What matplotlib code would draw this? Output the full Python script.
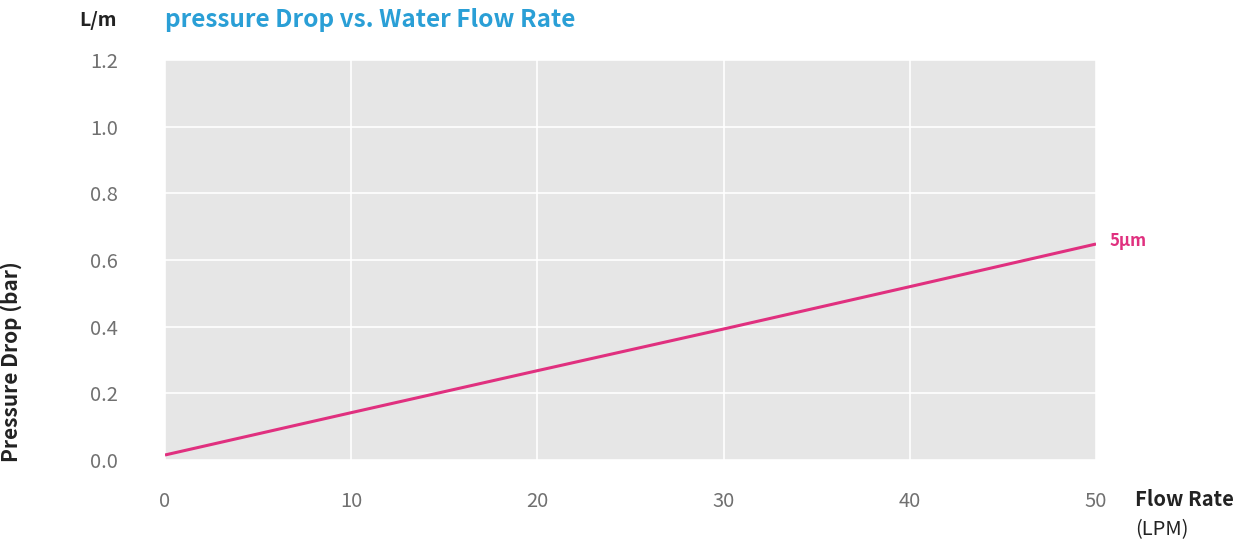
import matplotlib.pyplot as plt
import numpy as np

plt.rcParams['font.family'] = ['Noto Sans CJK KR', 'DejaVu Sans']

flow = [0, 10, 20, 30, 40, 50]
drop = [0.015, 0.142, 0.268, 0.393, 0.52, 0.648]
xticks = [0, 10, 20, 30, 40, 50]
yticks = [0.0, 0.2, 0.4, 0.6, 0.8, 1.0, 1.2]

pink = '#e0307f'
fig = plt.figure(figsize=(12.47, 5.46), dpi=100)
ax = fig.add_axes([165/1247, 86/546, (1096-165)/1247, (460-60)/546])
ax.set_facecolor('#e6e6e6')
ax.plot(flow, drop, color=pink, lw=2.2, solid_capstyle='butt')
ax.set_xlim(0, 50)
ax.set_ylim(0, 1.2)
ax.set_xticks(xticks)
ax.set_yticks(yticks)
ax.set_yticklabels([f'{v:.1f}' for v in yticks])
ax.grid(True, color='white', lw=1.2)
ax.set_axisbelow(True)
for s in ax.spines.values():
    s.set_visible(False)
ax.tick_params(length=0, labelsize=14.5, labelcolor='#707070')
for lbl in ax.get_xticklabels() + ax.get_yticklabels():
    lbl.set_fontweight('light')
ax.tick_params(axis='x', pad=22)
ax.tick_params(axis='y', pad=34)

ax.set_ylabel('Pressure Drop (bar)', fontsize=15, fontweight='bold', color='#222222')
ax.yaxis.set_label_coords((22-165)/931, (460-362)/400)
fig.text(98/1247, 1-20/546, 'L/m', ha='center', va='center', fontsize=14, fontweight='bold', color='#222222')
fig.text(165/1247, 1-20/546, 'pressure Drop vs. Water Flow Rate', ha='left', va='center',
         fontsize=17.5, fontweight='bold', color='#2a9fd6')
ax.annotate('5µm', xy=(50, drop[-1]), xytext=(10, 2), textcoords='offset points',
            ha='left', va='center', fontsize=12, fontweight='bold', color=pink)
fig.text(1135/1247, 1-500/546, 'Flow Rate', ha='left', va='center', fontsize=14.5,
         fontweight='bold', color='#222222')
fig.text(1135/1247, 1-530/546, '(LPM)', ha='left', va='center', fontsize=14.5, color='#222222')

fig.savefig('out.png', dpi=100)
